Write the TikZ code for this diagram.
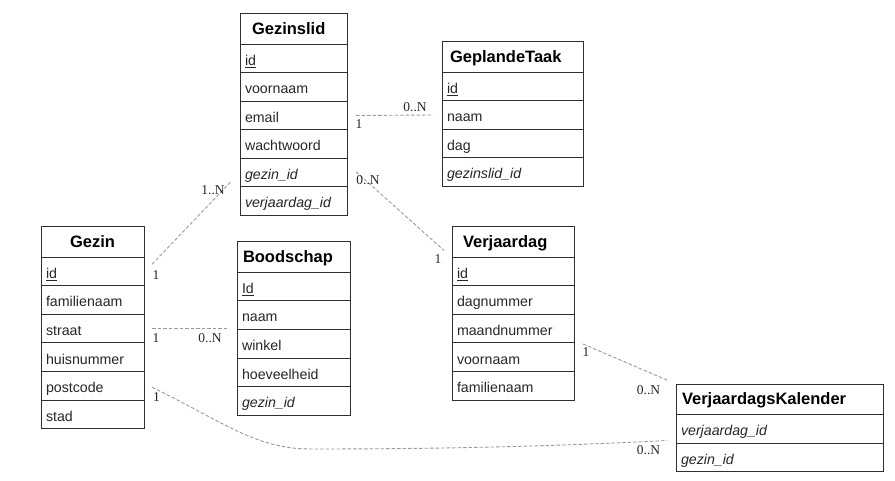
\documentclass[tikz,border=0pt]{standalone}
\usepackage{fontspec}
\setmainfont{Liberation Sans}
\newfontfamily\lserif{Liberation Serif}
\usetikzlibrary{calc}
\definecolor{edgec}{HTML}{9A9A9A}
\definecolor{boxc}{HTML}{303030}
\begin{document}
\begin{tikzpicture}[x=1pt,y=-1pt,
  hdr/.style n args={2}{draw=boxc, line width=1pt, anchor=north west, outer sep=0pt,
    minimum height=30.5pt, inner xsep=#2, inner ysep=0pt, text width=#1, align=left,
    font=\bfseries\fontsize{16.5}{18}\selectfont, text height=12pt, text depth=2pt},
  hdrc/.style={draw=boxc, line width=1pt, anchor=north west, outer sep=0pt,
    minimum height=30.5pt, inner xsep=5pt, inner ysep=0pt, text width=#1, align=center,
    font=\bfseries\fontsize{16.5}{18}\selectfont, text height=12pt, text depth=2pt},
  fld/.style={draw=boxc, line width=1pt, anchor=north west, outer sep=0pt,
    minimum height=28.5pt, inner xsep=5pt, inner ysep=0pt, text width=#1, align=left,
    font=\fontsize{14.2}{16}\selectfont, text height=15pt, text depth=1.5pt, text=black!85},
  rel/.style={draw=edgec, line width=0.9pt, dash pattern=on 3.5pt off 2pt},
  lbl/.style={font=\lserif\fontsize{13.5}{15}\selectfont, inner sep=0pt, text=black!85}
]
\useasboundingbox (0,0) rectangle (895,481);

% Gezinslid
\node[hdr={83pt}{12pt}] (gl-h) at (240,14) {Gezinslid};
\node[fld=97pt] (gl-id) at (gl-h.south west) {\underline{id}};
\node[fld=97pt] (gl-voor) at (gl-id.south west) {voornaam};
\node[fld=97pt] (gl-email) at (gl-voor.south west) {email};
\node[fld=97pt] (gl-wacht) at (gl-email.south west) {wachtwoord};
\node[fld=97pt] (gl-gezin) at (gl-wacht.south west) {\itshape gezin\_id};
\node[fld=97pt] (gl-verj) at (gl-gezin.south west) {\itshape verjaardag\_id};

% GeplandeTaak
\node[hdr={125pt}{8pt}] (gt-h) at (442,42) {GeplandeTaak};
\node[fld=131pt] (gt-id) at (gt-h.south west) {\underline{id}};
\node[fld=131pt] (gt-naam) at (gt-id.south west) {naam};
\node[fld=131pt] (gt-dag) at (gt-naam.south west) {dag};
\node[fld=131pt] (gt-gl) at (gt-dag.south west) {\itshape gezinslid\_id};

% Verjaardag
\node[hdr={100pt}{11pt}] (vj-h) at (452,227) {Verjaardag};
\node[fld=112pt] (vj-id) at (vj-h.south west) {\underline{id}};
\node[fld=112pt] (vj-dag) at (vj-id.south west) {dagnummer};
\node[fld=112pt] (vj-maand) at (vj-dag.south west) {maandnummer};
\node[fld=112pt] (vj-voor) at (vj-maand.south west) {voornaam};
\node[fld=112pt] (vj-fam) at (vj-voor.south west) {familienaam};

% VerjaardagsKalender
\node[hdr={195pt}{6pt}] (vk-h) at (676,384) {VerjaardagsKalender};
\node[fld=197pt] (vk-verj) at (vk-h.south west) {\itshape verjaardag\_id};
\node[fld=197pt] (vk-gezin) at (vk-verj.south west) {\itshape gezin\_id};

% Gezin
\node[hdrc=93pt] (gz-h) at (41,227) {Gezin};
\node[fld=93pt] (gz-id) at (gz-h.south west) {\underline{id}};
\node[fld=93pt] (gz-fam) at (gz-id.south west) {familienaam};
\node[fld=93pt] (gz-straat) at (gz-fam.south west) {straat};
\node[fld=93pt] (gz-huis) at (gz-straat.south west) {huisnummer};
\node[fld=93pt] (gz-post) at (gz-huis.south west) {postcode};
\node[fld=93pt] (gz-stad) at (gz-post.south west) {stad};

% Boodschap
\node[hdr={101pt}{6pt}] (bs-h) at (237,242) {Boodschap};
\node[fld=103pt] (bs-id) at (bs-h.south west) {\underline{Id}};
\node[fld=103pt] (bs-naam) at (bs-id.south west) {naam};
\node[fld=103pt] (bs-winkel) at (bs-naam.south west) {winkel};
\node[fld=103pt] (bs-hoev) at (bs-winkel.south west) {hoeveelheid};
\node[fld=103pt] (bs-gezin) at (bs-hoev.south west) {\itshape gezin\_id};

% connectors
\draw[rel] ($(gl-email.east)+(9,-0.25)$) -- ($(gt-naam.west)+(-9,-0.25)$);
\draw[rel] ($(gz-id.east)+(8,-7.5)$) -- ($(gl-gezin.south west)+(-9,-5.5)$);
\draw[rel] ($(gl-gezin.east)+(9,-1)$) -- ($(vj-h.south west)+(-8,-7)$);
\draw[rel] ($(gz-straat.east)+(8,-0.5)$) -- ($(bs-naam.south west)+(-8,-1.25)$);
\draw[rel] ($(vj-maand.south east)+(9,1)$) -- ($(vk-h.north west)+(-8,-3.5)$);
\coordinate (bend) at (310,449);
\draw[rel] ($(gz-post.east)+(8,1.5)$) .. controls (220,420) and (255,449) .. (bend)
  .. controls (450,449) and (560,446) .. ($(vk-verj.south west)+(-9,-2.5)$);

% labels
\node[lbl] (l1a) at (359,124) {1};
\node[lbl] (l1b) at (415,107.5) {0..N};
\node[lbl] (l2a) at (156,275) {1};
\node[lbl] (l2b) at (213,190.5) {1..N};
\node[lbl] (l3a) at (368,180) {0..N};
\node[lbl] (l3b) at (438,259.5) {1};
\node[lbl] (l4a) at (156,338) {1};
\node[lbl] (l4b) at (210,338) {0..N};
\node[lbl] (l5a) at (586,352.5) {1};
\node[lbl] (l5b) at (648.5,390) {0..N};
\node[lbl] (l6a) at (156.5,397) {1};
\node[lbl] (l6b) at (648.5,450) {0..N};
\end{tikzpicture}
\end{document}
